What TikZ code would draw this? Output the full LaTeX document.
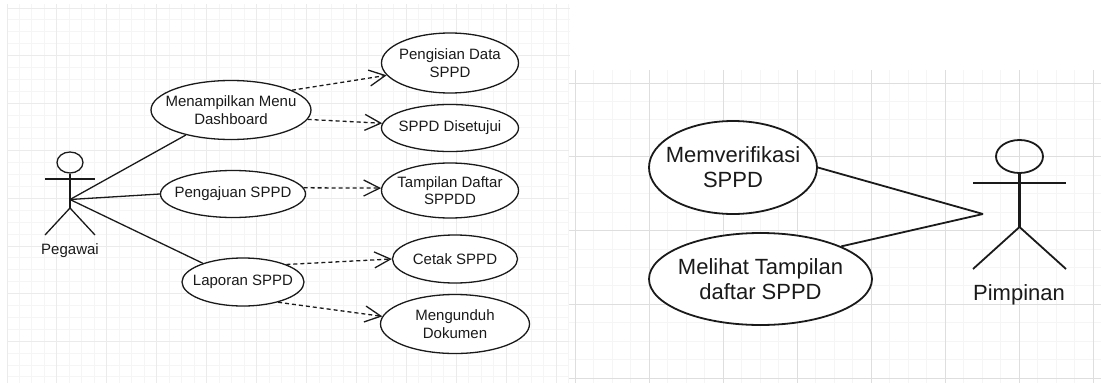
\documentclass[tikz,border=0pt]{standalone}
\usepackage{fontspec}
\setmainfont{Liberation Sans}
\usetikzlibrary{shapes.geometric,arrows.meta}
\definecolor{gridminor}{HTML}{F5F5F5}
\definecolor{gridleft}{HTML}{EBEBEB}
\definecolor{gridright}{HTML}{DEDEDE}
\definecolor{inkline}{HTML}{1A1A1A}
\tikzset{
  smalltext/.style={font=\fontsize{15}{17.3}\selectfont,align=center,text=inkline},
  bigtext/.style={font=\fontsize{22}{25}\selectfont,align=center,text=inkline},
  smallcase/.style n args={3}{ellipse,draw=inkline,line width=1.3pt,fill=white,inner sep=0pt,
    minimum width=#1,minimum height=#2,label={[smalltext]center:#3}},
  bigcase/.style n args={3}{ellipse,draw=inkline,line width=1.8pt,fill=white,inner sep=0pt,
    minimum width=#1,minimum height=#2,label={[bigtext]center:#3}},
  assoc/.style={draw=inkline,line width=1.3pt},
  bigassoc/.style={draw=inkline,line width=1.8pt},
  depend/.style={draw=inkline,line width=1.3pt,dashed,dash pattern=on 4pt off 3pt,
    -{Straight Barb[length=16pt,width=16pt]}},
}
\begin{document}
\begin{tikzpicture}[x=1pt,y=-1pt]
\useasboundingbox (0,0) rectangle (1101,383);
\fill[white] (0,0) rectangle (1101,383);
% left sheet
\foreach \i in {0,...,45} \draw[gridminor,line width=1pt] ({7+\i*12.48},4) -- ({7+\i*12.48},383);
\foreach \i in {0,...,31} \draw[gridminor,line width=1pt] (7,{8+\i*11.9}) -- (570,{8+\i*11.9});
\foreach \i in {0,...,11} \draw[gridleft,line width=1pt] ({7+\i*49.92},4) -- ({7+\i*49.92},383);
\foreach \i in {0,...,7} \draw[gridleft,line width=1pt] (7,{8+\i*47.6}) -- (570,{8+\i*47.6});
% right sheet
\fill[white] (569,70) rectangle (1101,383);
\foreach \i in {0,...,28} \draw[gridminor,line width=1pt] ({575+\i*18.5},70) -- ({575+\i*18.5},383);
\foreach \i in {0,...,16} \draw[gridminor,line width=1pt] (569,{83+\i*18.45}) -- (1101,{83+\i*18.45});
\foreach \i in {0,...,7} \draw[gridright,line width=1pt] ({575+\i*74},70) -- ({575+\i*74},383);
\foreach \i in {0,...,4} \draw[gridright,line width=1pt] (569,{83+\i*73.8}) -- (1101,{83+\i*73.8});
% use cases, left
\node[smallcase={160pt}{59pt}{Menampilkan Menu\\Dashboard}] (menu) at (231,110) {};
\node[smallcase={145pt}{47pt}{Pengajuan SPPD}] (ajuan) at (233,194) {};
\node[smallcase={122pt}{48pt}{Laporan SPPD}] (laporan) at (243,282) {};
\node[smallcase={137pt}{60pt}{Pengisian Data\\SPPD}] (isi) at (450,63) {};
\node[smallcase={137pt}{47pt}{SPPD Disetujui}] (setuju) at (450,128) {};
\node[smallcase={137pt}{55pt}{Tampilan Daftar\\SPPDD}] (daftar) at (450,190.5) {};
\node[smallcase={125pt}{48pt}{Cetak SPPD}] (cetak) at (455,259) {};
\node[smallcase={149pt}{59pt}{Mengunduh\\Dokumen}] (unduh) at (455,324) {};
% use cases, right
\node[bigcase={168pt}{93pt}{Memverifikasi\\SPPD}] (verif) at (733,167.5) {};
\node[bigcase={223pt}{92pt}{Melihat Tampilan\\daftar SPPD}] (lihat) at (760.5,279) {};
% actor Pegawai
\node[ellipse,draw=inkline,line width=1.3pt,inner sep=0pt,minimum width=26pt,minimum height=21pt] (pegawaiHead) at (70,162.5) {};
\coordinate (pegawaiHip) at (70,208);
\coordinate (pegawaiHub) at (70,199.5);
\coordinate (pegawaiArmL) at (45,179);
\coordinate (pegawaiArmR) at (95,179);
\coordinate (pegawaiLegL) at (45,235);
\coordinate (pegawaiLegR) at (95,235);
\node[smalltext] (pegawaiName) at (70,251) {Pegawai};
\path (pegawaiHead.south) edge [assoc] (pegawaiHip);
\path (pegawaiArmL) edge [assoc] (pegawaiArmR);
\path (pegawaiLegL) edge [assoc] (pegawaiHip);
\path (pegawaiLegR) edge [assoc] (pegawaiHip);
% actor Pimpinan
\node[ellipse,draw=inkline,line width=1.8pt,inner sep=0pt,minimum width=47pt,minimum height=33pt] (pimpinanHead) at (1019.5,156.5) {};
\coordinate (pimpinanHip) at (1019.5,227);
\coordinate (pimpinanHub) at (983,214);
\coordinate (pimpinanArmL) at (973,183);
\coordinate (pimpinanArmR) at (1066,183);
\coordinate (pimpinanLegL) at (973,269);
\coordinate (pimpinanLegR) at (1066,269);
\node[bigtext] (pimpinanName) at (1019,295) {Pimpinan};
\path (pimpinanHead.south) edge [bigassoc,line width=2.2pt] (pimpinanHip);
\path (pimpinanArmL) edge [bigassoc] (pimpinanArmR);
\path (pimpinanLegL) edge [bigassoc] (pimpinanHip);
\path (pimpinanLegR) edge [bigassoc] (pimpinanHip);
% associations
\path (pegawaiHub) edge [assoc] (menu.209);
\path (pegawaiHub) edge [assoc] (ajuan.west);
\path (pegawaiHub) edge [assoc] (laporan.155);
\path (verif.east) edge [bigassoc] (pimpinanHub);
\path (lihat.22) edge [bigassoc] (pimpinanHub);
% dependencies
\path (menu.18) edge [depend] (isi.191);
\path (menu.-7) edge [depend] (setuju.176);
\path (ajuan.5) edge [depend] (daftar.178);
\path (laporan.22) edge [depend] (cetak.west);
\path (laporan.-30) edge [depend] (unduh.174);
\end{tikzpicture}
\end{document}
